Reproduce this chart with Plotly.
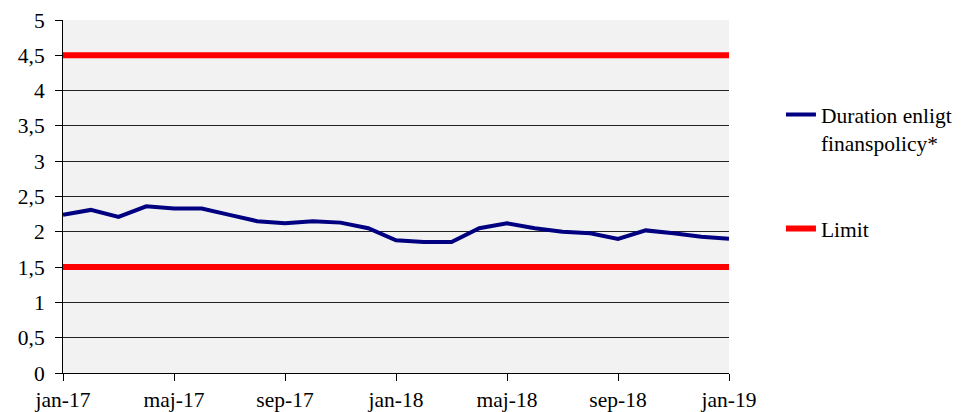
import plotly.graph_objects as go

months = ["jan-17","feb-17","mar-17","apr-17","maj-17","jun-17","jul-17","aug-17","sep-17","okt-17","nov-17","dec-17",
          "jan-18","feb-18","mar-18","apr-18","maj-18","jun-18","jul-18","aug-18","sep-18","okt-18","nov-18","dec-18","jan-19"]
duration = [2.24,2.31,2.21,2.36,2.33,2.33,2.24,2.15,2.12,2.15,2.13,2.05,
            1.88,1.855,1.855,2.05,2.12,2.05,2.0,1.98,1.90,2.02,1.98,1.93,1.90]
limit_low = [1.5]*len(months)
limit_high = [4.5]*len(months)
tick_months = ["jan-17","maj-17","sep-17","jan-18","maj-18","sep-18","jan-19"]

font_family = "Liberation Serif, Times New Roman, serif"

fig = go.Figure()
fig.add_trace(go.Scatter(x=months, y=limit_high, mode="lines", line=dict(color="#ff0000", width=6),
                         name="Limit", legendgroup="limit", showlegend=False, hoverinfo="skip"))
fig.add_trace(go.Scatter(x=months, y=limit_low, mode="lines", line=dict(color="#ff0000", width=6),
                         name="Limit", legendgroup="limit", showlegend=True))
fig.add_trace(go.Scatter(x=months, y=duration, mode="lines", line=dict(color="#000080", width=4),
                         name="Duration enligt<br>finanspolicy*", legendgroup="dur", legendrank=1))

fig.update_layout(
    width=960, height=404,
    margin=dict(l=55, r=239, t=12, b=39, autoexpand=False),
    paper_bgcolor="white", plot_bgcolor="#f2f2f2",
    separators=", ",
    font=dict(family=font_family, size=21.5, color="black"),
    legend=dict(x=1.078, y=0.79, xanchor="left", yanchor="top", tracegroupgap=55, valign="top",
                font=dict(size=21.5), bgcolor="rgba(0,0,0,0)", traceorder="grouped"),
    xaxis=dict(type="category", range=[0, 24], tickmode="array", tickvals=tick_months, ticktext=tick_months,
               showgrid=False, showline=True, linecolor="black", linewidth=1, automargin=False,
               ticks="outside", ticklen=7, tickcolor="black", zeroline=False),
    yaxis=dict(range=[0, 5], dtick=0.5, showgrid=True, gridcolor="#222222", gridwidth=1,
               showline=True, linecolor="black", linewidth=1, automargin=False,
               ticks="outside", ticklen=7, ticklabelstandoff=6, tickcolor="black", zeroline=False),
)
fig.write_html("out.html")
